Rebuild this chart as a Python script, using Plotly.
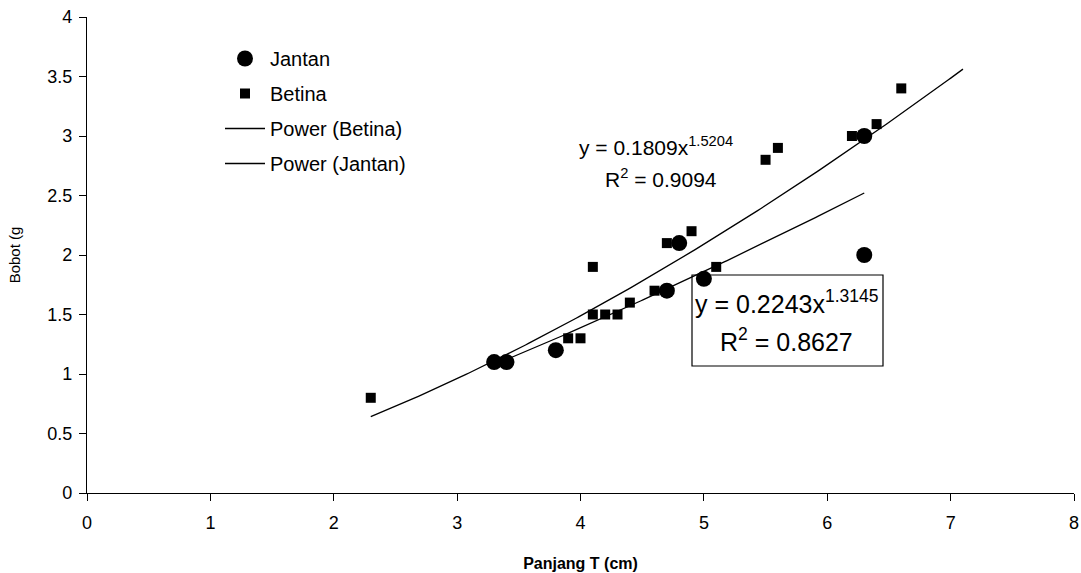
import numpy as np
import plotly.graph_objects as go

# Data
jantan_x = [3.3, 3.4, 3.8, 4.7, 4.8, 5.0, 6.3, 6.3]
jantan_y = [1.1, 1.1, 1.2, 1.7, 2.1, 1.8, 3.0, 2.0]
betina_x = [2.3, 3.9, 4.0, 4.1, 4.2, 4.3, 4.4, 4.1, 4.6, 4.7, 4.9, 5.1, 5.5, 5.6, 6.2, 6.4, 6.6]
betina_y = [0.8, 1.3, 1.3, 1.5, 1.5, 1.5, 1.6, 1.9, 1.7, 2.1, 2.2, 1.9, 2.8, 2.9, 3.0, 3.1, 3.4]

# Power trendline coefficients (y = a * x^b)
betina_a, betina_b = 0.1809, 1.5204
jantan_a, jantan_b = 0.2243, 1.3145
betina_fit_range = [2.3, 7.1]
jantan_fit_range = [3.3, 6.3]

bx = np.linspace(betina_fit_range[0], betina_fit_range[1], 200)
jx = np.linspace(jantan_fit_range[0], jantan_fit_range[1], 200)

FONT = "Liberation Sans, Arial, sans-serif"

fig = go.Figure()
fig.add_trace(go.Scatter(x=jantan_x, y=jantan_y, mode="markers", name="Jantan",
                         legendgroup="a",
                         marker=dict(symbol="circle", size=16, color="black")))
fig.add_trace(go.Scatter(x=betina_x, y=betina_y, mode="markers", name="Betina",
                         legendgroup="b",
                         marker=dict(symbol="square", size=10, color="black")))
fig.add_trace(go.Scatter(x=bx, y=betina_a * bx ** betina_b, mode="lines", name="Power (Betina)",
                         legendgroup="c",
                         line=dict(color="black", width=1.3)))
fig.add_trace(go.Scatter(x=jx, y=jantan_a * jx ** jantan_b, mode="lines", name="Power (Jantan)",
                         legendgroup="d",
                         line=dict(color="black", width=1.3)))

W, H = 1081, 573
# plot area in window coordinates
PL, PR, PT, PB = 87, 1074, 17, 493
L, R, T, B = PL, W - PR, PT, H - PB
pw, ph = PR - PL, PB - PT

def px(x):
    return (x - PL) / pw

def py(y):
    return (PB - y) / ph

annotations = [
    dict(text="y = 0.1809x<sup>1.5204</sup>", x=px(656), y=py(146), xref="paper", yref="paper",
         showarrow=False, xanchor="center", yanchor="middle", font=dict(size=21, color="black", family=FONT)),
    dict(text="R<sup>2</sup> = 0.9094", x=px(661), y=py(178), xref="paper", yref="paper",
         showarrow=False, xanchor="center", yanchor="middle", font=dict(size=21, color="black", family=FONT)),
    dict(text="y = 0.2243x<sup>1.3145</sup>", x=px(787), y=py(302), xref="paper", yref="paper",
         showarrow=False, xanchor="center", yanchor="middle", font=dict(size=25, color="black", family=FONT)),
    dict(text="R<sup>2</sup> = 0.8627", x=px(786), y=py(340), xref="paper", yref="paper",
         showarrow=False, xanchor="center", yanchor="middle", font=dict(size=25, color="black", family=FONT)),
]

shapes = [dict(type="rect", xref="paper", yref="paper", x0=px(692), x1=px(883), y0=py(366), y1=py(275),
               line=dict(color="black", width=1.2), fillcolor="white", layer="below")]

fig.update_layout(
    width=W, height=H,
    margin=dict(l=L, r=R, t=T, b=B, autoexpand=False),
    paper_bgcolor="white", plot_bgcolor="white",
    font=dict(family=FONT, color="black", size=18),
    showlegend=True,
    legend=dict(x=px(220), y=py(39), xanchor="left", yanchor="top",
                font=dict(size=20, family=FONT, color="black"),
                bgcolor="rgba(0,0,0,0)", traceorder="grouped", tracegroupgap=6,
                itemwidth=40),
    annotations=annotations,
    shapes=shapes,
    xaxis=dict(range=[0, 8], dtick=1, tick0=0, showgrid=False, zeroline=False,
               showline=True, linecolor="black", linewidth=1.3, automargin=False,
               ticks="outside", ticklen=7, tickcolor="black", tickwidth=1.3,
               ticklabelstandoff=6, ticklabeloverflow="allow",
               title=dict(text="<b>Panjang T (cm)</b>", font=dict(size=16, family=FONT), standoff=26)),
    yaxis=dict(range=[0, 4], dtick=0.5, tick0=0, showgrid=False, zeroline=False,
               showline=True, linecolor="black", linewidth=1.3, automargin=False,
               ticks="outside", ticklen=7, tickcolor="black", tickwidth=1.3,
               ticklabelstandoff=3, ticklabeloverflow="allow",
               title=dict(text="Bobot (g", font=dict(size=15, family=FONT), standoff=22)),
)

fig.write_html("out.html",
               config={"displayModeBar": False},
               post_script="document.body.style.margin='0';document.body.style.padding='0';")
